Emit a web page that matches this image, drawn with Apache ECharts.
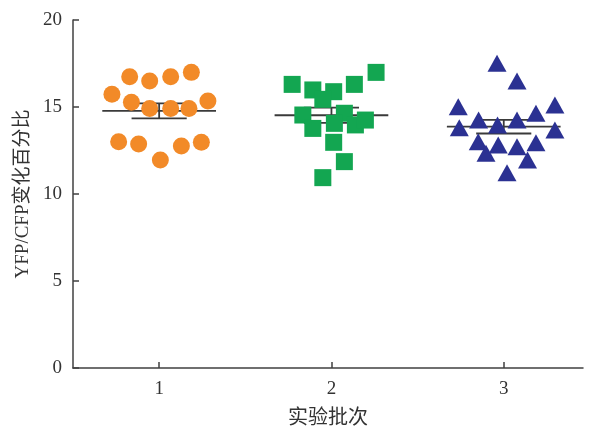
<!DOCTYPE html>
<html>
<head>
<meta charset="utf-8">
<script src="https://cdn.jsdelivr.net/npm/echarts@6/dist/echarts.min.js"></script>
<style>
  html, body { margin: 0; padding: 0; background: #fff; }
  #chart { width: 589px; height: 427px; }
</style>
</head>
<body>
<div id="chart"></div>
<script>
// Batch tick labels on the x axis
const batchTicks = [1, 2, 3];

// Batch 1: horizontal position (batch number + spread) and YFP/CFP change (%)
const batch1X = [0.726, 0.829, 0.945, 1.067, 1.187, 0.839, 0.945, 1.067, 1.173, 1.283, 0.765, 0.881, 1.007, 1.129, 1.245];
const batch1Y = [15.73, 16.74, 16.49, 16.74, 16.99, 15.27, 14.92, 14.92, 14.92, 15.34, 13.00, 12.87, 11.95, 12.76, 12.97];

// Batch 2
const batch2X = [1.772, 1.892, 2.013, 2.133, 2.259, 1.950, 1.834, 2.075, 1.892, 2.017, 2.139, 2.197, 2.013, 2.075, 1.950];
const batch2Y = [16.30, 15.98, 15.88, 16.30, 16.99, 15.44, 14.54, 14.64, 13.77, 14.06, 13.97, 14.25, 12.97, 11.86, 10.94];

// Batch 3
const batch3X = [2.961, 3.077, 2.736, 3.297, 2.854, 3.187, 2.742, 2.964, 3.077, 3.297, 2.852, 2.968, 3.077, 3.187, 2.897, 3.138, 3.019];
const batch3Y = [17.51, 16.49, 15.02, 15.11, 14.25, 14.64, 13.81, 13.97, 14.25, 13.68, 13.00, 12.82, 12.72, 12.95, 12.34, 11.95, 11.22];

const FONT = '"Liberation Serif", "Times New Roman", "Noto Sans CJK SC", serif';
const INK = '#333333';

function pairs(xs, ys) { return xs.map((x, i) => [x, ys[i]]); }

// mean ± standard error of the mean for each batch
function meanSem(center, ys) {
  const n = ys.length;
  const m = ys.reduce((a, b) => a + b, 0) / n;
  const v = ys.reduce((a, b) => a + (b - m) * (b - m), 0) / (n - 1);
  return [center, m, Math.sqrt(v / n)];
}
const summary = [
  meanSem(1, batch1Y),
  meanSem(2, batch2Y),
  meanSem(3, batch3Y)
];

const chart = echarts.init(document.getElementById('chart'), null, { renderer: 'canvas' });

chart.setOption({
  animation: false,
  backgroundColor: '#ffffff',
  grid: { left: 73, right: 6, top: 20, bottom: 59, containLabel: false, outerBoundsMode: 'none' },
  xAxis: {
    type: 'value',
    min: 0.5,
    max: 3.46,
    name: '实验批次',
    nameLocation: 'middle',
    nameGap: 41,
    nameTextStyle: { fontFamily: FONT, fontSize: 20, color: INK },
    axisLine: { show: true, onZero: false, lineStyle: { color: '#404040', width: 1.5 } },
    axisTick: { show: true, inside: true, length: 6, customValues: batchTicks, lineStyle: { color: '#404040', width: 1.5 } },
    axisLabel: { customValues: batchTicks, margin: 12, fontFamily: FONT, fontSize: 19, color: INK },
    splitLine: { show: false }
  },
  yAxis: {
    type: 'value',
    min: 0,
    max: 20,
    interval: 5,
    name: 'YFP/CFP变化百分比',
    nameLocation: 'middle',
    nameRotate: 90,
    nameGap: 38,
    nameTextStyle: { fontFamily: FONT, fontSize: 19, color: INK },
    axisLine: { show: true, lineStyle: { color: '#404040', width: 1.5 } },
    axisTick: { show: true, inside: true, length: 6, lineStyle: { color: '#404040', width: 1.5 } },
    axisLabel: { margin: 11, fontFamily: FONT, fontSize: 19, color: INK },
    splitLine: { show: false }
  },
  series: [
    {
      // mean line with SEM error bar, drawn beneath the points
      type: 'custom',
      z: 1,
      data: summary,
      renderItem: function (params, api) {
        const cx = api.value(0), m = api.value(1), s = api.value(2);
        const halfMean = 0.33, halfCap = 0.16;
        const p = (x, y) => api.coord([x, y]);
        const style = { stroke: '#3a3a3a', lineWidth: 1.8 };
        const seg = (a, b) => ({ type: 'line', shape: { x1: a[0], y1: a[1], x2: b[0], y2: b[1] }, style: style });
        return {
          type: 'group',
          children: [
            seg(p(cx - halfMean, m), p(cx + halfMean, m)),
            seg(p(cx, m - s), p(cx, m + s)),
            seg(p(cx - halfCap, m + s), p(cx + halfCap, m + s)),
            seg(p(cx - halfCap, m - s), p(cx + halfCap, m - s))
          ]
        };
      }
    },
    {
      type: 'scatter',
      z: 3,
      symbol: 'circle',
      symbolSize: 17,
      itemStyle: { color: '#F28A28', opacity: 1 },
      data: pairs(batch1X, batch1Y)
    },
    {
      type: 'scatter',
      z: 3,
      symbol: 'rect',
      symbolSize: 17,
      itemStyle: { color: '#13A651', opacity: 1 },
      data: pairs(batch2X, batch2Y)
    },
    {
      type: 'scatter',
      z: 3,
      symbol: 'triangle',
      symbolSize: [19, 17],
      itemStyle: { color: '#2B3192', opacity: 1 },
      data: pairs(batch3X, batch3Y)
    }
  ]
});
</script>
</body>
</html>
